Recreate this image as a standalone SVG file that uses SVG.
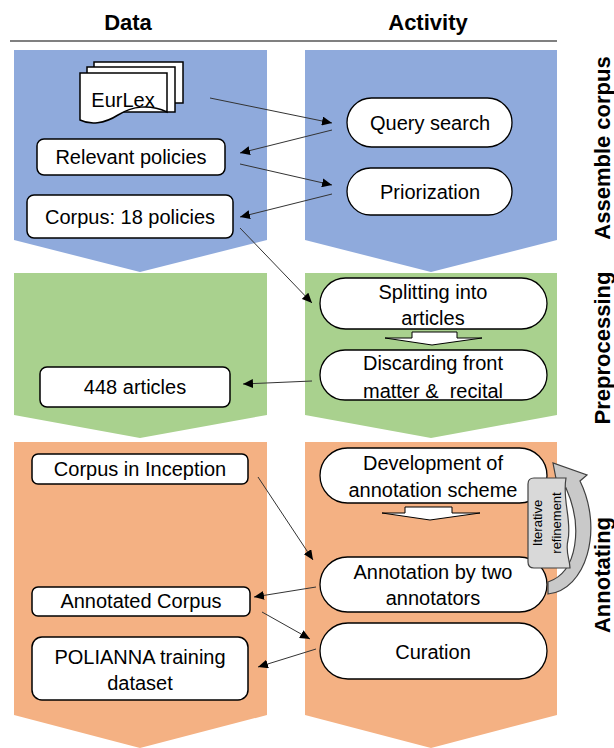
<svg xmlns="http://www.w3.org/2000/svg" width="614" height="748" viewBox="0 0 614 748">
<defs>
<marker id="ah" markerUnits="userSpaceOnUse" markerWidth="11" markerHeight="9" refX="10" refY="4.5" orient="auto">
<path d="M0,0 L10,4.5 L0,9 Z" fill="#000"/>
</marker>
<style>
text{font-family:"Liberation Sans",Arial,sans-serif;fill:#000}
.t{font-size:20px;text-anchor:middle}
.h{font-size:22px;font-weight:bold;text-anchor:middle}
.box{fill:#fff;stroke:#000;stroke-width:1.5}
.pill{fill:#fff;stroke:#000;stroke-width:1.3}
.con{stroke:#333;stroke-width:1;fill:none;marker-end:url(#ah)}
.blk{fill:#fff;stroke:#000;stroke-width:1}
</style>
</defs>
<rect width="614" height="748" fill="#fff"/>
<g id="header">
<text class="h" x="128" y="30">Data</text>
<text class="h" x="428" y="30">Activity</text>
<line x1="10" y1="41" x2="557" y2="41" stroke="#808080" stroke-width="2"/>
</g>
<g id="bands">
<polygon points="14,50 267,50 267,240 140,272 14,240" fill="#8FAADC"/>
<polygon points="305,50 557,50 557,240 431,272 305,240" fill="#8FAADC"/>
<polygon points="14,273 267,273 267,415 140,438 14,415" fill="#A9D18E"/>
<polygon points="305,273 557,273 557,415 431,438 305,415" fill="#A9D18E"/>
<polygon points="14,442 267,442 267,715 140,748 14,715" fill="#F4B183"/>
<polygon points="305,442 557,442 557,715 431,748 305,715" fill="#F4B183"/>
</g>
<g id="phase-labels">
<text class="h" transform="translate(610,148) rotate(-90)">Assemble corpus</text>
<text class="h" transform="translate(610,348) rotate(-90)">Preprocessing</text>
<text class="h" transform="translate(610,575) rotate(-90)">Annotating</text>
</g>
<g id="eurlex">
<rect x="94" y="62" width="89" height="41" class="box" stroke-width="1.2"/>
<rect x="87" y="67" width="88" height="45" class="box" stroke-width="1.2"/>
<path d="M80,73 H167 V112 C150,104 132,106 118,115 C104,124 90,125 80,120 Z" class="box" stroke-width="1.2"/>
<text class="t" x="123" y="107">EurLex</text>
</g>
<g id="relevant-policies">
<rect x="37" y="139" width="188" height="36" rx="7" class="box"/>
<text class="t" x="131" y="164">Relevant policies</text>
</g>
<g id="corpus-18">
<rect x="27" y="195" width="206" height="43" rx="7" class="box"/>
<text class="t" x="130" y="224">Corpus: 18 policies</text>
</g>
<g id="query-search">
<rect x="347" y="98" width="165" height="49" rx="24.5" class="pill"/>
<text class="t" x="430" y="130">Query search</text>
</g>
<g id="priorization">
<rect x="347" y="168" width="165" height="47" rx="23.5" class="pill"/>
<text class="t" x="430" y="199">Priorization</text>
</g>
<g id="splitting">
<rect x="320" y="278" width="227" height="51" rx="25.5" class="pill"/>
<text class="t" x="433" y="299">Splitting into</text>
<text class="t" x="433" y="325">articles</text>
</g>
<polygon class="blk" points="412,332 457,332 457,338 482,338 432,345 385,338 412,338"/>
<g id="discarding">
<rect x="320" y="350" width="227" height="50" rx="25" class="pill"/>
<text class="t" x="433" y="370">Discarding front</text>
<text class="t" x="433" y="398">matter &amp;&#160; recital</text>
</g>
<g id="articles-448">
<rect x="40" y="367" width="190" height="40" rx="7" class="box"/>
<text class="t" x="135" y="394">448 articles</text>
</g>
<g id="corpus-inception">
<rect x="32" y="454" width="216" height="30" rx="6" class="box"/>
<text class="t" x="140" y="476">Corpus in Inception</text>
</g>
<g id="development">
<rect x="320" y="448" width="227" height="55" rx="27.5" class="pill"/>
<text class="t" x="433" y="470">Development of</text>
<text class="t" x="433" y="497">annotation scheme</text>
</g>
<polygon class="blk" points="405,507 452,507 452,513 480,513 430,520 382,513 405,513"/>
<g id="annotation">
<rect x="320" y="557" width="227" height="55" rx="27.5" class="pill"/>
<text class="t" x="433" y="579">Annotation by two</text>
<text class="t" x="433" y="605">annotators</text>
</g>
<g id="annotated-corpus">
<rect x="32" y="587" width="218" height="29" rx="6" class="box"/>
<text class="t" x="141" y="608">Annotated Corpus</text>
</g>
<g id="curation">
<rect x="320" y="623" width="227" height="56" rx="28" class="pill"/>
<text class="t" x="433" y="659">Curation</text>
</g>
<g id="polianna">
<rect x="32" y="637" width="216" height="63" rx="10" class="box"/>
<text class="t" x="140" y="664">POLIANNA training</text>
<text class="t" x="140" y="690">dataset</text>
</g>
<g id="iterative-refinement">
<path d="M548,594 C586,590 604,530 580,481 L587,475 L553,463 L559,494 L566,488 C583,526 578,572 548,582 Z" fill="#C9C9C9" stroke="#404040" stroke-width="1.2"/>
<path d="M534,478 H566 C562,500 572,520 568,540 C565,552 570,560 570,568 H534 Q528,568 528,562 V484 Q528,478 534,478 Z" fill="#D9D9D9" stroke="#404040" stroke-width="1.2"/>
<text font-size="13" text-anchor="middle" transform="translate(542,523) rotate(-90)">Iterative</text>
<text font-size="13" text-anchor="middle" transform="translate(561,523) rotate(-90)">refinement</text>
</g>
<g id="connectors">
<line class="con" x1="210" y1="98" x2="332" y2="123"/>
<line class="con" x1="332" y1="130" x2="240" y2="153"/>
<line class="con" x1="240" y1="164" x2="332" y2="185"/>
<line class="con" x1="332" y1="194" x2="240" y2="217"/>
<line class="con" x1="240" y1="228" x2="312" y2="303"/>
<line class="con" x1="312" y1="381" x2="243" y2="384"/>
<line class="con" x1="258" y1="477" x2="313" y2="560"/>
<line class="con" x1="316" y1="587" x2="254" y2="597"/>
<line class="con" x1="262" y1="612" x2="310" y2="639"/>
<line class="con" x1="316" y1="649" x2="258" y2="667"/>
</g>
</svg>
